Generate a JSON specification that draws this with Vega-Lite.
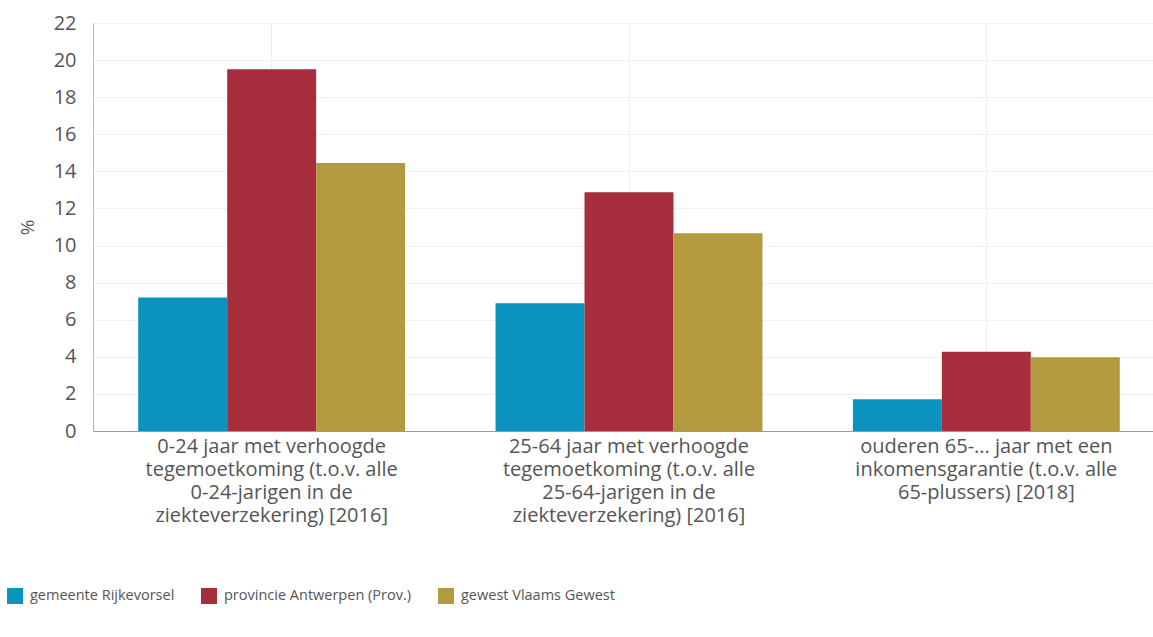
{
  "$schema": "https://vega.github.io/schema/vega-lite/v6.json",
  "autosize": {"type": "none"},
  "width": 1060,
  "height": 408,
  "padding": {"left": 93, "top": 23, "right": 0, "bottom": 206},
  "background": "white",
  "config": {
    "font": "Open Sans",
    "view": {"stroke": "#b5b5b5", "strokeWidth": 1}
  },
  "data": {
    "values": [
      {"category": "0-24 jaar met verhoogde\ntegemoetkoming (t.o.v. alle\n0-24-jarigen in de\nziekteverzekering) [2016]", "region": "gemeente Rijkevorsel", "value": 7.2},
      {"category": "0-24 jaar met verhoogde\ntegemoetkoming (t.o.v. alle\n0-24-jarigen in de\nziekteverzekering) [2016]", "region": "provincie Antwerpen (Prov.)", "value": 19.5},
      {"category": "0-24 jaar met verhoogde\ntegemoetkoming (t.o.v. alle\n0-24-jarigen in de\nziekteverzekering) [2016]", "region": "gewest Vlaams Gewest", "value": 14.45},
      {"category": "25-64 jaar met verhoogde\ntegemoetkoming (t.o.v. alle\n25-64-jarigen in de\nziekteverzekering) [2016]", "region": "gemeente Rijkevorsel", "value": 6.89},
      {"category": "25-64 jaar met verhoogde\ntegemoetkoming (t.o.v. alle\n25-64-jarigen in de\nziekteverzekering) [2016]", "region": "provincie Antwerpen (Prov.)", "value": 12.87},
      {"category": "25-64 jaar met verhoogde\ntegemoetkoming (t.o.v. alle\n25-64-jarigen in de\nziekteverzekering) [2016]", "region": "gewest Vlaams Gewest", "value": 10.66},
      {"category": "ouderen 65-... jaar met een\ninkomensgarantie (t.o.v. alle\n65-plussers) [2018]", "region": "gemeente Rijkevorsel", "value": 1.71},
      {"category": "ouderen 65-... jaar met een\ninkomensgarantie (t.o.v. alle\n65-plussers) [2018]", "region": "provincie Antwerpen (Prov.)", "value": 4.28},
      {"category": "ouderen 65-... jaar met een\ninkomensgarantie (t.o.v. alle\n65-plussers) [2018]", "region": "gewest Vlaams Gewest", "value": 3.97}
    ]
  },
  "mark": {"type": "bar"},
  "encoding": {
    "x": {
      "field": "category",
      "type": "nominal",
      "sort": null,
      "scale": {"range": [0, 1072], "paddingInner": 0.253, "paddingOuter": 0.1265},
      "axis": {
        "title": null,
        "labelAngle": 0,
        "labelExpr": "split(datum.label, '\\n')",
        "labelFontSize": 20,
        "labelLineHeight": 23.3,
        "labelColor": "#555555",
        "labelPadding": 5,
        "labelBaseline": "top",
        "labelLimit": 0,
        "ticks": false,
        "domainColor": "#9a9a9a",
        "grid": true,
        "gridColor": "#e4f1f6"
      }
    },
    "xOffset": {
      "field": "region",
      "type": "nominal",
      "sort": ["gemeente Rijkevorsel", "provincie Antwerpen (Prov.)", "gewest Vlaams Gewest"]
    },
    "y": {
      "field": "value",
      "type": "quantitative",
      "scale": {"domain": [0, 22], "nice": false},
      "axis": {
        "title": "%",
        "titleFontSize": 19,
        "titleFontWeight": "normal",
        "titleColor": "#555555",
        "titlePadding": 16,
        "values": [0, 2, 4, 6, 8, 10, 12, 14, 16, 18, 20, 22],
        "labelFontSize": 20,
        "labelColor": "#555555",
        "labelPadding": 17,
        "ticks": false,
        "domain": false,
        "gridColor": "#eef2f4"
      }
    },
    "color": {
      "field": "region",
      "type": "nominal",
      "scale": {
        "domain": ["gemeente Rijkevorsel", "provincie Antwerpen (Prov.)", "gewest Vlaams Gewest"],
        "range": ["#0a93be", "#a72d3d", "#b39a3e"]
      },
      "legend": {
        "title": null,
        "orient": "none",
        "direction": "horizontal",
        "legendX": -86,
        "legendY": 565,
        "symbolType": "square",
        "symbolSize": 256,
        "symbolStrokeWidth": 0,
        "symbolOpacity": 1,
        "labelFontSize": 14.5,
        "labelColor": "#555555",
        "labelLimit": 0,
        "labelOffset": 7,
        "columnPadding": 26
      }
    }
  }
}
